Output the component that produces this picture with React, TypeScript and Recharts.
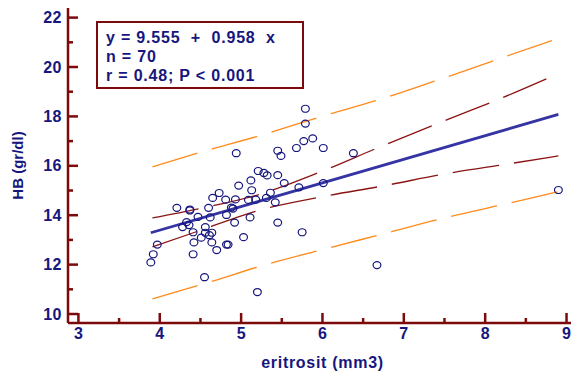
import React from 'react';
import { ComposedChart, Scatter, Line, XAxis, YAxis } from 'recharts';

// axis ticks
const xMajor = [3, 4, 5, 6, 7, 8, 9];
const xMinor = [3.5, 4.5, 5.5, 6.5, 7.5, 8.5];
const yMajor = [10, 12, 14, 16, 18, 20, 22];
const yMinor = [11, 13, 15, 17, 19, 21];

// observations: eritrosit (mm3) vs HB (gr/dl)
const eritrosit = [
  5.79, 5.79, 5.88, 5.77, 5.68, 6.01, 4.94, 5.45, 5.49, 5.21, 5.28, 5.32, 5.45,
  5.12, 4.97, 5.53, 6.01, 5.71, 5.13, 4.73, 5.36, 4.65, 4.81, 4.93, 5.09, 5.18,
  5.31, 5.42, 4.21, 4.37, 4.37, 4.6, 4.88, 4.9, 4.47, 4.62, 4.82, 5.11, 4.33,
  4.36, 4.28, 4.92, 5.45, 4.56, 4.41, 4.56, 4.64, 5.75, 4.51, 4.61, 5.03, 3.97,
  4.42, 4.64, 4.82, 4.84, 4.7, 3.92, 4.41, 3.89, 4.55, 5.2, 6.38, 8.9, 6.67,
];
const hb = [
  18.31, 17.71, 17.11, 17.0, 16.72, 16.72, 16.51, 16.61, 16.4, 15.79, 15.71,
  15.61, 15.62, 15.41, 15.2, 15.3, 15.3, 15.13, 15.01, 14.9, 14.91, 14.7, 14.63,
  14.64, 14.62, 14.63, 14.7, 14.52, 14.3, 14.23, 14.19, 14.3, 14.31, 14.27,
  13.93, 13.91, 14.01, 13.91, 13.72, 13.6, 13.52, 13.7, 13.7, 13.52, 13.31,
  13.29, 13.29, 13.31, 13.09, 13.19, 13.11, 12.81, 12.9, 12.9, 12.81, 12.81,
  12.59, 12.42, 12.42, 12.09, 11.49, 10.89, 16.51, 15.02, 11.98,
];

// regression line ends
const regX = [3.89, 8.9];
const regY = [13.29, 18.08];

// confidence band (dark red)
const ciUpX = [3.91, 4.48, 5.24, 5.98, 6.71, 7.62, 8.17, 8.89];
const ciUpY = [13.89, 14.26, 14.86, 15.76, 16.77, 17.98, 18.7, 19.72];
const ciLoX = [3.91, 4.44, 5.2, 5.98, 6.75, 7.52, 8.29, 8.9];
const ciLoY = [12.72, 13.32, 14.18, 14.74, 15.19, 15.68, 16.08, 16.4];

// prediction band (orange)
const piUpX = [3.91, 4.48, 5.23, 5.98, 6.74, 7.47, 8.22, 8.89];
const piUpY = [15.96, 16.53, 17.22, 17.99, 18.72, 19.53, 20.39, 21.15];
const piLoX = [3.91, 4.66, 5.21, 5.98, 6.74, 7.5, 8.26, 8.9];
const piLoY = [10.61, 11.34, 11.91, 12.59, 13.24, 13.89, 14.46, 14.95];

const zip = (xs: number[], ys: number[]) => xs.map((x, i) => ({ x, y: ys[i] }));

const NAVY = '#16167e';
const AXIS = '#7d0a0a';
const FONT = '"Liberation Sans", Arial, sans-serif';

const XTick = (props: any) => {
  const { x, y, payload } = props;
  const major = xMajor.includes(payload.value);
  return (
    <g>
      <line x1={x} y1={y} x2={x} y2={y - (major ? 10 : 5)} stroke={AXIS} strokeWidth={2.5} />
      {major && (
        <text x={x} y={y + 16} textAnchor="middle" fill={NAVY} fontSize={16} fontWeight="bold" fontFamily={FONT}>
          {payload.value}
        </text>
      )}
    </g>
  );
};

const YTick = (props: any) => {
  const { x, y, payload } = props;
  const major = yMajor.includes(payload.value);
  return (
    <g>
      <line x1={x} y1={y} x2={x + (major ? 10 : 5)} y2={y} stroke={AXIS} strokeWidth={2.5} />
      {major && (
        <text x={x - 6} y={y + 5.5} textAnchor="end" fill={NAVY} fontSize={16} fontWeight="bold" fontFamily={FONT} letterSpacing={0.5}>
          {payload.value}
        </text>
      )}
    </g>
  );
};

const YTitle = (props: any) => {
  const vb = props.viewBox || { x: 0, y: 8, width: 68, height: 315 };
  const cx = vb.x + 17;
  const cy = vb.y + vb.height / 2;
  return (
    <text
      x={cx}
      y={cy}
      transform={`rotate(-90, ${cx}, ${cy})`}
      textAnchor="middle"
      dominantBaseline="central"
      fill={NAVY}
      fontSize={15}
      fontWeight="bold"
      fontFamily={FONT}
    >
      HB (gr/dl)
    </text>
  );
};

const Dot = (props: any) => (
  <ellipse cx={props.cx} cy={props.cy} rx={3.9} ry={3.5} fill="none" stroke={NAVY} strokeWidth={1.2} />
);

export default function App() {
  const points = zip(eritrosit, hb);
  return (
    <div style={{ position: 'absolute', left: 0, top: 0, width: 572, height: 372, background: '#fff' }}>
      <ComposedChart width={572} height={372} margin={{ top: 8, right: 1, bottom: 0, left: 0 }}>
        <XAxis
          type="number"
          dataKey="x"
          domain={[2.872, 9.055]}
          allowDataOverflow
          ticks={[...xMajor, ...xMinor].sort((a, b) => a - b)}
          interval={0}
          tick={<XTick />}
          tickLine={false}
          tickSize={0}
          tickMargin={0}
          height={49}
          axisLine={{ stroke: AXIS, strokeWidth: 2.5 }}
          label={{
            value: 'eritrosit (mm3)',
            position: 'insideBottom',
            offset: 4,
            dx: 3,
            fill: NAVY,
            fontSize: 16,
            fontWeight: 'bold',
            fontFamily: FONT,
            letterSpacing: 0.7,
          }}
        />
        <YAxis
          type="number"
          dataKey="y"
          domain={[9.636, 22.389]}
          allowDataOverflow
          ticks={[...yMajor, ...yMinor].sort((a, b) => a - b)}
          interval={0}
          tick={<YTick />}
          tickLine={false}
          tickSize={0}
          tickMargin={0}
          width={68}
          axisLine={{ stroke: AXIS, strokeWidth: 2.5 }}
          label={(p: any) => <YTitle {...p} />}
        />
        <Line data={zip(piUpX, piUpY)} dataKey="y" type="monotone" stroke="#ff8a1c" strokeWidth={1.3} strokeDasharray="47 15" dot={false} isAnimationActive={false} />
        <Line data={zip(piLoX, piLoY)} dataKey="y" type="monotone" stroke="#ff8a1c" strokeWidth={1.3} strokeDasharray="47 15" dot={false} isAnimationActive={false} />
        <Line data={zip(ciUpX, ciUpY)} dataKey="y" type="monotone" stroke="#8b1414" strokeWidth={1.3} strokeDasharray="47 15" dot={false} isAnimationActive={false} />
        <Line data={zip(ciLoX, ciLoY)} dataKey="y" type="monotone" stroke="#8b1414" strokeWidth={1.3} strokeDasharray="47 15" dot={false} isAnimationActive={false} />
        <Line data={zip(regX, regY)} dataKey="y" type="linear" stroke="#3434a4" strokeWidth={2.8} dot={false} isAnimationActive={false} />
        <Scatter data={points} shape={<Dot />} isAnimationActive={false} />
      </ComposedChart>
      <div
        style={{
          position: 'absolute',
          left: 96,
          top: 21,
          width: 208,
          height: 68,
          border: `2px solid ${AXIS}`,
          boxSizing: 'border-box',
          padding: '5px 0 0 8px',
          fontFamily: FONT,
          fontWeight: 'bold',
          fontSize: 16,
          lineHeight: '19px',
          letterSpacing: 0.8,
          color: NAVY,
          whiteSpace: 'pre',
          background: '#fff',
        }}
      >
        <div>{'y = 9.555  +  0.958  x'}</div>
        <div>n = 70</div>
        <div>r = 0.48; P &lt; 0.001</div>
      </div>
    </div>
  );
}
